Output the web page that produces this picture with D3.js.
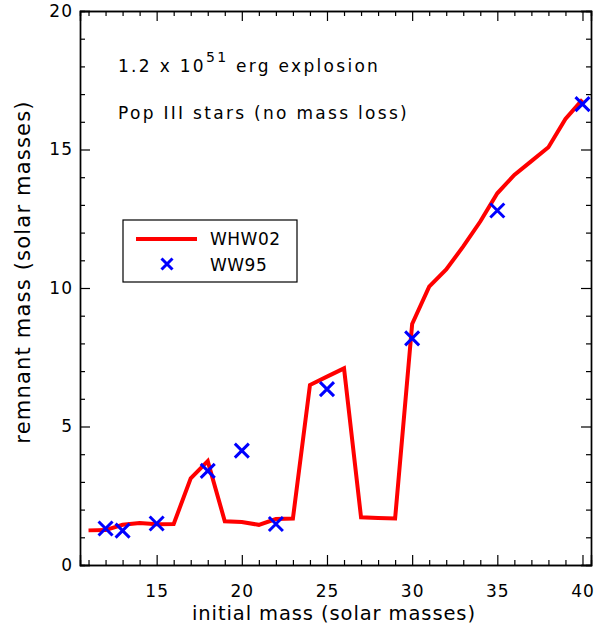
<!DOCTYPE html>
<html>
<head>
<meta charset="utf-8">
<script src="https://cdn.jsdelivr.net/npm/d3@7"></script>
<style>
  body { margin: 0; background: #fff; }
  svg text { font-family: "DejaVu Sans", sans-serif; fill: #000; }
</style>
</head>
<body>
<svg id="chart" width="597" height="630"></svg>
<script>
// WHW02 model curve (initial mass -> remnant mass)
const whwMass = [11, 12, 13, 14, 15, 16, 17, 18, 19, 20, 21, 22, 23, 24, 25, 26, 27, 28, 29, 30,
                 31, 32, 33, 34, 35, 36, 37, 38, 39, 40];
const whwRemnant = [1.25, 1.26, 1.45, 1.52, 1.47, 1.48, 3.13, 3.75, 1.58, 1.55, 1.45, 1.66, 1.68, 6.5, 6.8, 7.1, 1.72, 1.7, 1.68, 8.7,
                    10.05, 10.67, 11.5, 12.4, 13.42, 14.08, 14.58, 15.08, 16.1, 16.8];

// WW95 points
const wwMass = [12, 13, 15, 18, 20, 22, 25, 30, 35, 40];
const wwRemnant = [1.32, 1.24, 1.5, 3.4, 4.13, 1.48, 6.35, 8.18, 12.8, 16.64];

const xTicks = [15, 20, 25, 30, 35, 40];
const yTicks = [0, 5, 10, 15, 20];

const svg = d3.select('#chart');
const margin = { top: 11, right: 6, bottom: 65, left: 80 };
const width = 597, height = 630;

const x = d3.scaleLinear().domain([10.5, 40.5]).range([margin.left, width - margin.right]);
const y = d3.scaleLinear().domain([0, 20]).range([height - margin.bottom, margin.top]);

const minorX = d3.range(11, 41).filter(d => !xTicks.includes(d));
const minorY = d3.range(1, 20).filter(d => !yTicks.includes(d));

// axes: ticks point inward on all four sides
function frame(axisFn, scale, major, minor, transform, labels) {
  const gMinor = svg.append('g').attr('transform', transform)
    .call(axisFn(scale).tickValues(minor).tickSize(-5).tickFormat(''));
  const g = svg.append('g').attr('transform', transform)
    .call(axisFn(scale).tickValues(major).tickSize(-10).tickPadding(labels ? 20 : 0)
      .tickFormat(labels ? d3.format('d') : ''));
  [g, gMinor].forEach(s => {
    s.select('.domain').attr('stroke', '#000').attr('stroke-width', 1.4);
    s.selectAll('.tick line').attr('stroke', '#000').attr('stroke-width', 1.2);
    s.selectAll('.tick text').attr('font-size', 17).attr('letter-spacing', 1).attr('fill', '#000');
  });
  return g;
}
frame(d3.axisBottom, x, xTicks, minorX, `translate(0,${height - margin.bottom})`, true);
frame(d3.axisTop, x, xTicks, minorX, `translate(0,${margin.top})`, false);
const gy = frame(d3.axisLeft, y, yTicks, minorY, `translate(${margin.left},0)`, true);
gy.selectAll('.tick text').attr('x', -7);
frame(d3.axisRight, y, yTicks, minorY, `translate(${width - margin.right},0)`, false);

// axis titles
svg.append('text')
  .attr('x', 334)
  .attr('y', 620)
  .attr('text-anchor', 'middle')
  .attr('font-size', 19.5)
  .attr('letter-spacing', 0.9)
  .text('initial mass (solar masses)');

svg.append('text')
  .attr('transform', 'translate(30,272) rotate(-90)')
  .attr('text-anchor', 'middle')
  .attr('font-size', 21)
  .attr('letter-spacing', 1.2)
  .text('remnant mass (solar masses)');

// annotations
const t1 = svg.append('text').attr('x', 118).attr('y', 72).attr('font-size', 17).attr('letter-spacing', 2.3);
t1.append('tspan').text('1.2 x 10');
t1.append('tspan').attr('dy', -10).attr('font-size', 14).text('51');
t1.append('tspan').attr('dy', 10).text(' erg explosion');

svg.append('text').attr('x', 118).attr('y', 119).attr('font-size', 17).attr('letter-spacing', 2.3)
  .text('Pop III stars (no mass loss)');

// WHW02 line
const whw = whwMass.map((m, i) => [m, whwRemnant[i]]);
svg.append('path')
  .datum(whw)
  .attr('fill', 'none')
  .attr('stroke', '#ff0000')
  .attr('stroke-width', 4)
  .attr('d', d3.line().x(d => x(d[0])).y(d => y(d[1])));

// WW95 crosses
const cross = 'M-7,-7L7,7M-7,7L7,-7';
svg.append('g')
  .selectAll('path')
  .data(wwMass.map((m, i) => [m, wwRemnant[i]]))
  .join('path')
  .attr('transform', d => `translate(${x(d[0])},${y(d[1])})`)
  .attr('d', cross)
  .attr('stroke', '#0000ff')
  .attr('stroke-width', 3)
  .attr('fill', 'none');

// legend
const legend = svg.append('g');
legend.append('rect')
  .attr('x', 123).attr('y', 220).attr('width', 174).attr('height', 62)
  .attr('fill', '#fff').attr('stroke', '#000').attr('stroke-width', 1.2);
legend.append('line')
  .attr('x1', 136).attr('x2', 197).attr('y1', 239).attr('y2', 239)
  .attr('stroke', '#ff0000').attr('stroke-width', 4);
legend.append('path')
  .attr('transform', 'translate(167,264)')
  .attr('d', 'M-5.5,-5.5L5.5,5.5M-5.5,5.5L5.5,-5.5')
  .attr('stroke', '#0000ff').attr('stroke-width', 3);
legend.append('text').attr('x', 210).attr('y', 245).attr('font-size', 17).attr('letter-spacing', 0.5).text('WHW02');
legend.append('text').attr('x', 210).attr('y', 271).attr('font-size', 17).attr('letter-spacing', 0.5).text('WW95');
</script>
</body>
</html>
